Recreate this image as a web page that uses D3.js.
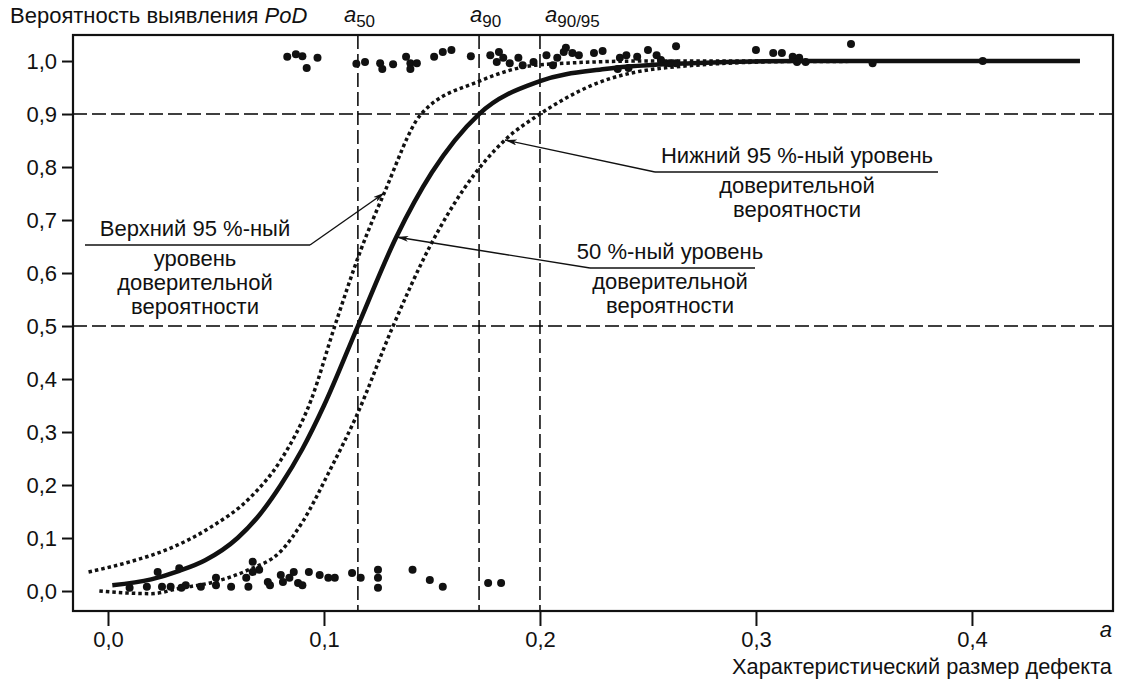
<!DOCTYPE html>
<html>
<head>
<meta charset="utf-8">
<script src="https://cdn.jsdelivr.net/npm/d3@7"></script>
<style>
  body { margin: 0; background: #fff; }
  svg text { font-family: "Liberation Sans", Arial, sans-serif; fill: #111; }
</style>
</head>
<body>
<svg id="chart" width="1129" height="686"></svg>
<script>
// values
var xTicks = [0, 0.1, 0.2, 0.3, 0.4];
var yTicks = [0, 0.1, 0.2, 0.3, 0.4, 0.5, 0.6, 0.7, 0.8, 0.9, 1.0];
var a50 = 0.1157, a90 = 0.1718, a9095 = 0.2;
var levels = [0.9, 0.5];

// PoD curve (50 %)
var podA   = [0.002, 0.02, 0.033, 0.045, 0.06, 0.07, 0.08, 0.09, 0.1, 0.1157, 0.1335, 0.15, 0.1718, 0.2, 0.23, 0.27, 0.32, 0.45];
var podVal = [0.011, 0.022, 0.038, 0.058, 0.10, 0.143, 0.20, 0.268, 0.35, 0.5, 0.668, 0.79, 0.9, 0.962, 0.985, 0.996, 1.0, 1.0];

// upper 95 % bound
var upA   = [-0.009, 0.01, 0.029, 0.047, 0.066, 0.08, 0.094, 0.105, 0.117, 0.128, 0.145, 0.172, 0.2, 0.25, 0.45];
var upVal = [0.036, 0.055, 0.081, 0.119, 0.177, 0.247, 0.36, 0.50, 0.643, 0.752, 0.90, 0.962, 0.993, 1.0, 1.0];

// lower 95 % bound
var loA   = [-0.004, 0.01, 0.02, 0.033, 0.049, 0.065, 0.08, 0.09, 0.103, 0.115, 0.132, 0.149, 0.165, 0.1838, 0.2, 0.2245, 0.26, 0.317, 0.45];
var loVal = [0.0, -0.004, -0.005, 0.005, 0.017, 0.040, 0.075, 0.13, 0.23, 0.33, 0.50, 0.65, 0.76, 0.851, 0.9, 0.955, 0.988, 0.999, 1.0];

// hits (PoD ~ 1)
var hitA = [0.083, 0.087, 0.090, 0.097, 0.092, 0.115, 0.119, 0.126, 0.127, 0.132, 0.138, 0.140, 0.140, 0.143,
  0.151, 0.155, 0.159, 0.168, 0.177, 0.181, 0.183, 0.180, 0.186, 0.190, 0.192, 0.197, 0.203, 0.208, 0.211, 0.206,
  0.212, 0.215, 0.218, 0.225, 0.229, 0.237, 0.240, 0.245, 0.250, 0.254, 0.256, 0.263, 0.236, 0.241, 0.260, 0.263,
  0.300, 0.308, 0.312, 0.317, 0.320, 0.323, 0.319, 0.344, 0.354, 0.405];
var hitVal = [1.008, 1.013, 1.009, 1.006, 0.987, 0.995, 0.998, 0.996, 0.985, 0.994, 1.008, 0.996, 0.985, 0.996,
  1.008, 1.017, 1.021, 1.009, 1.011, 1.017, 1.006, 0.998, 0.996, 1.006, 0.992, 0.998, 1.011, 1.006, 1.017, 0.992,
  1.025, 1.015, 1.011, 1.015, 1.019, 1.006, 1.011, 1.008, 1.021, 1.011, 1.002, 1.028, 0.985, 0.987, 0.996, 0.996,
  1.021, 1.015, 1.015, 1.008, 1.006, 0.998, 0.998, 1.032, 0.996, 1.000];

// misses (PoD ~ 0)
var missA = [0.023, 0.033, 0.010, 0.018, 0.025, 0.029, 0.034, 0.036, 0.043, 0.050, 0.050, 0.057, 0.064, 0.065,
  0.067, 0.070, 0.067, 0.074, 0.075, 0.080, 0.081, 0.084, 0.086, 0.088, 0.090, 0.093, 0.098, 0.102, 0.105,
  0.113, 0.117, 0.125, 0.125, 0.125, 0.141, 0.149, 0.155, 0.176, 0.182];
var missVal = [0.036, 0.043, 0.006, 0.008, 0.008, 0.008, 0.006, 0.011, 0.008, 0.025, 0.011, 0.008, 0.025, 0.008,
  0.055, 0.040, 0.036, 0.017, 0.011, 0.030, 0.017, 0.025, 0.036, 0.015, 0.011, 0.036, 0.030, 0.025, 0.025,
  0.034, 0.025, 0.040, 0.025, 0.006, 0.040, 0.021, 0.008, 0.015, 0.015];

var titleText = "Вероятность выявления ";
var xName = "Характеристический размер дефекта";

var svg = d3.select("#chart");
var pL = 73, pR = 1113, pT = 35, pB = 611;
var FS = 22;

var x = d3.scaleLinear().domain([-0.0162, 0.4653]).range([pL, pR]);
var y = d3.scaleLinear().domain([-0.0377, 1.0491]).range([pB, pT]);

function fmt(d) { return d.toFixed(1).replace(".", ","); }

// axes
var ya = svg.append("g").attr("transform", "translate(" + pL + ",0)")
  .call(d3.axisLeft(y).tickValues(yTicks).tickSize(11).tickPadding(5).tickFormat(fmt));
var xa = svg.append("g").attr("transform", "translate(0," + pB + ")")
  .call(d3.axisBottom(x).tickValues(xTicks).tickSize(15).tickPadding(5).tickFormat(fmt));
[ya, xa].forEach(function (g) {
  g.select(".domain").remove();
  g.selectAll(".tick line").attr("stroke", "#111").attr("stroke-width", 2);
  g.selectAll(".tick text").attr("font-size", FS).attr("fill", "#111")
    .attr("font-family", "Liberation Sans, Arial, sans-serif");
});

// dashed guide lines
svg.selectAll("line.hl").data(levels).enter().append("line")
  .attr("x1", pL).attr("x2", pR)
  .attr("y1", function (d) { return y(d); }).attr("y2", function (d) { return y(d); })
  .attr("stroke", "#000").attr("stroke-width", 1.5).attr("stroke-dasharray", "14,5");
svg.selectAll("line.vl").data([a50, a90, a9095]).enter().append("line")
  .attr("x1", function (d) { return x(d); }).attr("x2", function (d) { return x(d); })
  .attr("y1", pT).attr("y2", pB)
  .attr("stroke", "#000").attr("stroke-width", 1.5).attr("stroke-dasharray", "14,5");

// points
var hits = hitA.map(function (a, i) { return [a, hitVal[i]]; });
var misses = missA.map(function (a, i) { return [a, missVal[i]]; });
svg.selectAll("circle.pt").data(hits.concat(misses)).enter().append("circle")
  .attr("cx", function (d) { return x(d[0]); })
  .attr("cy", function (d) { return y(d[1]); })
  .attr("r", 4).attr("fill", "#111");

// curves
var line = d3.line().x(function (d) { return x(d[0]); }).y(function (d) { return y(d[1]); })
  .curve(d3.curveMonotoneX);
function pairs(a, v) { return a.map(function (d, i) { return [d, v[i]]; }); }

svg.append("path").datum(pairs(upA, upVal)).attr("d", line)
  .attr("fill", "none").attr("stroke", "#111").attr("stroke-width", 3.5).attr("stroke-dasharray", "3.5,3");
svg.append("path").datum(pairs(loA, loVal)).attr("d", line)
  .attr("fill", "none").attr("stroke", "#111").attr("stroke-width", 3.5).attr("stroke-dasharray", "3.5,3");
svg.append("path").datum(pairs(podA, podVal)).attr("d", line)
  .attr("fill", "none").attr("stroke", "#111").attr("stroke-width", 4.5);

// frame
svg.append("rect").attr("x", pL).attr("y", pT)
  .attr("width", pR - pL).attr("height", pB - pT)
  .attr("fill", "none").attr("stroke", "#111").attr("stroke-width", 2.2);

// arrow marker
svg.append("defs").append("marker").attr("id", "arr")
  .attr("viewBox", "0 0 12 6").attr("refX", 12).attr("refY", 3)
  .attr("markerWidth", 13).attr("markerHeight", 6).attr("markerUnits", "userSpaceOnUse")
  .attr("orient", "auto")
  .append("path").attr("d", "M0,0 L12,3 L0,6 L3,3 Z").attr("fill", "#111");

// annotations
var notes = [
  { above: ["Нижний 95 %-ный уровень"], below: ["доверительной", "вероятности"],
    cx: 797, uy: 172, ux: [655, 938], tip: [0.1838, 0.851], from: 655 },
  { above: ["50 %-ный уровень"], below: ["доверительной", "вероятности"],
    cx: 670, uy: 268, ux: [590, 755], tip: [0.1335, 0.668], from: 590 },
  { above: ["Верхний 95 %-ный"], below: ["уровень", "доверительной", "вероятности"],
    cx: 195, uy: 245, ux: [85, 310], tip: [0.1282, 0.752], from: 310 }
];
notes.forEach(function (n) {
  svg.append("line").attr("x1", n.ux[0]).attr("x2", n.ux[1]).attr("y1", n.uy).attr("y2", n.uy)
    .attr("stroke", "#111").attr("stroke-width", 1.4);
  svg.append("line").attr("x1", n.from).attr("y1", n.uy)
    .attr("x2", x(n.tip[0])).attr("y2", y(n.tip[1]))
    .attr("stroke", "#111").attr("stroke-width", 1.4).attr("marker-end", "url(#arr)");
  n.above.forEach(function (t) {
    svg.append("text").attr("x", n.cx).attr("y", n.uy - 9).attr("text-anchor", "middle")
      .attr("font-size", FS).text(t);
  });
  n.below.forEach(function (t, i) {
    svg.append("text").attr("x", n.cx).attr("y", n.uy + 21 + i * 24).attr("text-anchor", "middle")
      .attr("font-size", FS).text(t);
  });
});

// titles
var tt = svg.append("text").attr("x", 10).attr("y", 23).attr("font-size", FS);
tt.append("tspan").text(titleText);
tt.append("tspan").attr("font-style", "italic").text("PoD");

function subLabel(px, sub) {
  var t = svg.append("text").attr("x", px).attr("y", 22).attr("font-size", 22);
  t.append("tspan").attr("font-style", "italic").text("a");
  t.append("tspan").attr("font-size", 17).attr("dy", 5).text(sub);
}
subLabel(x(a50) - 14, "50");
subLabel(x(a90) - 9, "90");
subLabel(x(a9095) + 5, "90/95");

svg.append("text").attr("x", 1112).attr("y", 637).attr("text-anchor", "end")
  .attr("font-size", 22).attr("font-style", "italic").text("a");
svg.append("text").attr("x", 1112).attr("y", 674).attr("text-anchor", "end")
  .attr("font-size", FS).attr("textLength", 380).attr("lengthAdjust", "spacingAndGlyphs").text(xName);
</script>
</body>
</html>
